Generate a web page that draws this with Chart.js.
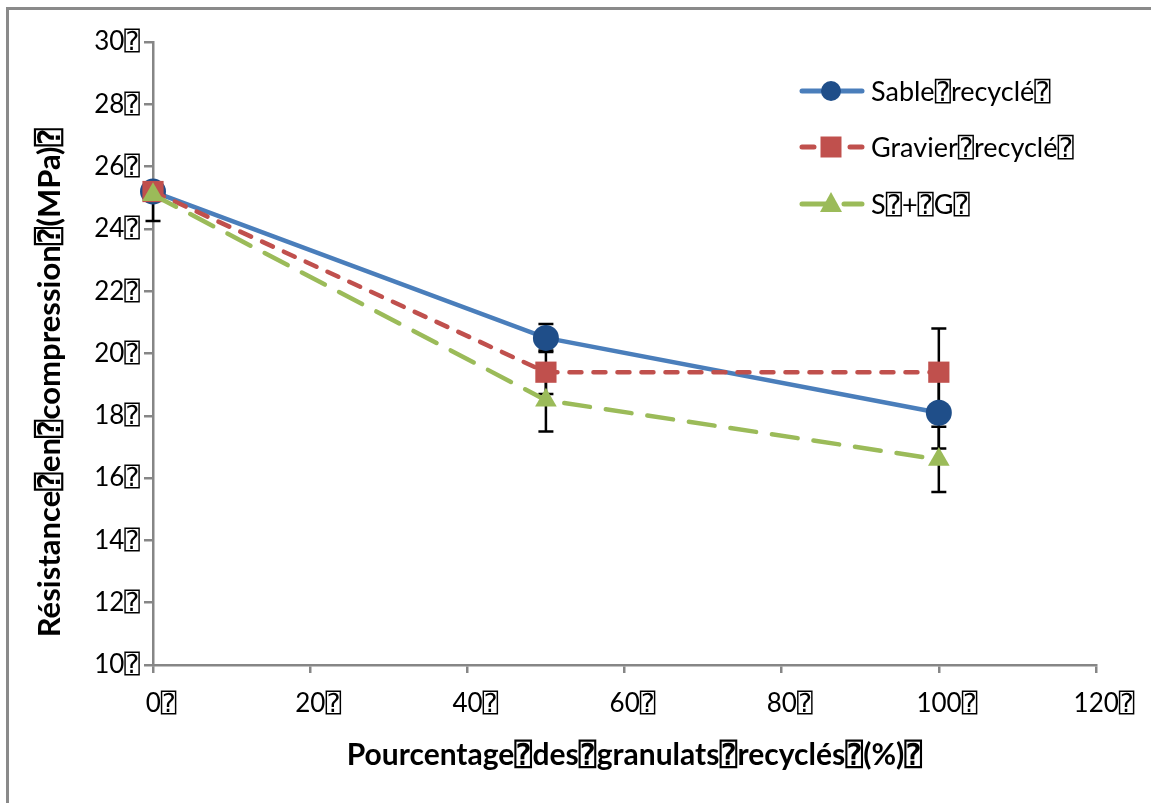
<!DOCTYPE html>
<html>
<head>
<meta charset="utf-8">
<script src="https://cdn.jsdelivr.net/npm/chart.js@4.4.1/dist/chart.umd.min.js"></script>
<style>
  html, body { margin: 0; padding: 0; background: #fff; }
  #wrap { position: relative; width: 1151px; height: 803px; overflow: hidden; background: #fff; }
  #chart { position: absolute; left: 0; top: 0; }
  #frame { position: absolute; left: 6px; top: 7px; right: -10px; bottom: -10px;
           border-top: 3px solid #8a8a8a; border-left: 3px solid #8a8a8a; pointer-events: none; }
</style>
</head>
<body>
<div id="wrap">
  <canvas id="chart" width="1151" height="803"></canvas>
  <div id="frame"></div>
</div>
<script>
const BOX = '\u2370'

const percentages = [0, 50, 100]
const seriesNames = ['Sable' + BOX + 'recyclé' + BOX, 'Gravier' + BOX + 'recyclé' + BOX, 'S' + BOX + '+' + BOX + 'G' + BOX]

const sableValues = [25.2, 20.5, 18.1]
const gravierValues = [25.2, 19.4, 19.4]
const sgValues = [25.1, 18.5, 16.6]

// error bars (up / down)
const sableErrUp = [0.2, 0.45, 1.15]
const sableErrDown = [0.2, 0.45, 1.15]
const gravierErrUp = [0.2, 0.7, 1.4]
const gravierErrDown = [0.2, 0.7, 1.4]
const sgErrUp = [0.2, 1.0, 1.05]
const sgErrDown = [0.85, 1.0, 1.05]

const xTicks = [0, 20, 40, 60, 80, 100, 120]
const yTicks = [10, 12, 14, 16, 18, 20, 22, 24, 26, 28, 30]

const xTitle = 'Pourcentage' + BOX + 'des' + BOX + 'granulats' + BOX + 'recyclés' + BOX + '(%)' + BOX
const yTitle = 'Résistance' + BOX + 'en' + BOX + 'compression' + BOX + '(MPa)' + BOX

const FONT = "Lato, 'DejaVu Sans Mono', 'DejaVu Sans', sans-serif"
const AXIS_GREY = '#868686'

function points (values) {
  return percentages.map((x, i) => ({ x: x, y: values[i] }))
}

const errorBars = {
  id: 'errorBars',
  beforeDatasetsDraw (chart) {
    const ctx = chart.ctx
    const xs = chart.scales.x
    const ys = chart.scales.y
    ctx.save()
    ctx.strokeStyle = '#000'
    ctx.lineWidth = 2.5
    chart.data.datasets.forEach((ds) => {
      ds.values.forEach((v, i) => {
        const px = xs.getPixelForValue(percentages[i])
        const top = ys.getPixelForValue(v + ds.errUp[i])
        const bot = ys.getPixelForValue(v - ds.errDown[i])
        ctx.beginPath()
        ctx.moveTo(px, top); ctx.lineTo(px, bot)
        ctx.moveTo(px - 7.5, top); ctx.lineTo(px + 7.5, top)
        ctx.moveTo(px - 7.5, bot); ctx.lineTo(px + 7.5, bot)
        ctx.stroke()
      })
    })
    ctx.restore()
  }
}

function drawMarker (ctx, style, x, y, color) {
  ctx.fillStyle = color
  ctx.beginPath()
  if (style === 'circle') {
    ctx.arc(x, y, 10, 0, Math.PI * 2)
  } else if (style === 'rect') {
    ctx.rect(x - 10.5, y - 10.5, 21, 21)
  } else {
    ctx.moveTo(x, y - 12)
    ctx.lineTo(x + 11, y + 8)
    ctx.lineTo(x - 11, y + 8)
    ctx.closePath()
  }
  ctx.fill()
}

const customLegend = {
  id: 'customLegend',
  afterDraw (chart) {
    const ctx = chart.ctx
    const rows = [91, 147, 204]
    ctx.save()
    chart.data.datasets.forEach((ds, i) => {
      const y = rows[i]
      ctx.strokeStyle = ds.borderColor
      ctx.lineWidth = 5
      ctx.lineCap = 'round'
      ctx.setLineDash(ds.borderDash || [])
      ctx.beginPath()
      ctx.moveTo(802, y); ctx.lineTo(862, y)
      ctx.stroke()
      ctx.setLineDash([])
      drawMarker(ctx, ds.pointStyle, 831, y, ds.pointBackgroundColor)
      ctx.fillStyle = '#000'
      ctx.font = '27px ' + FONT
      ctx.textBaseline = 'middle'
      ctx.textAlign = 'left'
      ctx.fillText(ds.label, 871, y + 1)
    })
    ctx.restore()
  }
}

const axisTitles = {
  id: 'axisTitles',
  afterDraw (chart) {
    const ctx = chart.ctx
    const area = chart.chartArea
    ctx.save()
    ctx.fillStyle = '#000'
    ctx.textAlign = 'center'
    ctx.textBaseline = 'middle'
    ctx.font = 'bold 30px ' + FONT
    ctx.fillText(xTitle, (area.left + area.right) / 2 + 10, 755)
    ctx.font = 'bold 31px ' + FONT
    ctx.translate(50, (area.top + area.bottom) / 2 + 29)
    ctx.rotate(-Math.PI / 2)
    ctx.fillText(yTitle, 0, 0)
    ctx.restore()
  }
}

new Chart(document.getElementById('chart'), {
  type: 'line',
  data: {
    datasets: [
      {
        label: seriesNames[0],
        values: sableValues, errUp: sableErrUp, errDown: sableErrDown,
        data: points(sableValues),
        borderColor: '#4A7EBB',
        borderWidth: 4.5,
        pointStyle: 'circle',
        pointRadius: 13,
        pointBackgroundColor: '#1F4E89',
        pointBorderColor: '#1F4E89',
        pointBorderWidth: 0,
        clip: false,
        order: 3
      },
      {
        label: seriesNames[1],
        values: gravierValues, errUp: gravierErrUp, errDown: gravierErrDown,
        data: points(gravierValues),
        borderColor: '#C0504D',
        borderWidth: 4.5,
        borderDash: [12, 12],
        borderCapStyle: 'round',
        pointStyle: 'rect',
        pointRadius: 15,
        pointBackgroundColor: '#C0504D',
        pointBorderColor: '#C0504D',
        pointBorderWidth: 0,
        clip: false,
        order: 2
      },
      {
        label: seriesNames[2],
        values: sgValues, errUp: sgErrUp, errDown: sgErrDown,
        data: points(sgValues),
        borderColor: '#9BBB59',
        borderWidth: 4.5,
        borderDash: [26, 16],
        borderCapStyle: 'round',
        pointStyle: 'triangle',
        pointRadius: 12.5,
        pointBackgroundColor: '#9BBB59',
        pointBorderColor: '#9BBB59',
        pointBorderWidth: 0,
        clip: false,
        order: 1
      }
    ]
  },
  options: {
    responsive: false,
    animation: false,
    devicePixelRatio: 1,
    layout: { padding: { left: 0, top: 42, right: 55, bottom: 0 } },
    plugins: {
      legend: { display: false },
      tooltip: { enabled: false }
    },
    scales: {
      x: {
        type: 'linear',
        min: 0,
        max: 120,
        afterBuildTicks: (s) => { s.ticks = xTicks.map(v => ({ value: v })) },
        afterFit: (s) => { s.height = 138 },
        border: { color: AXIS_GREY, width: 2.5 },
        grid: { drawOnChartArea: false, drawTicks: true, tickLength: 8, color: AXIS_GREY, lineWidth: 2.5 },
        ticks: {
          color: '#000',
          font: { family: FONT, size: 26 },
          padding: 15,
          labelOffset: 8,
          maxRotation: 0,
          callback: (v) => v + BOX
        }
      },
      y: {
        min: 10,
        max: 30,
        afterBuildTicks: (s) => { s.ticks = yTicks.map(v => ({ value: v })) },
        afterFit: (s) => { s.width = 153 },
        border: { color: AXIS_GREY, width: 2.5 },
        grid: { drawOnChartArea: false, drawTicks: true, tickLength: 9, color: AXIS_GREY, lineWidth: 2.5 },
        ticks: {
          color: '#000',
          font: { family: FONT, size: 26 },
          padding: 4,
          callback: (v) => v + BOX
        }
      }
    }
  },
  plugins: [errorBars, customLegend, axisTitles]
})
</script>
</body>
</html>
